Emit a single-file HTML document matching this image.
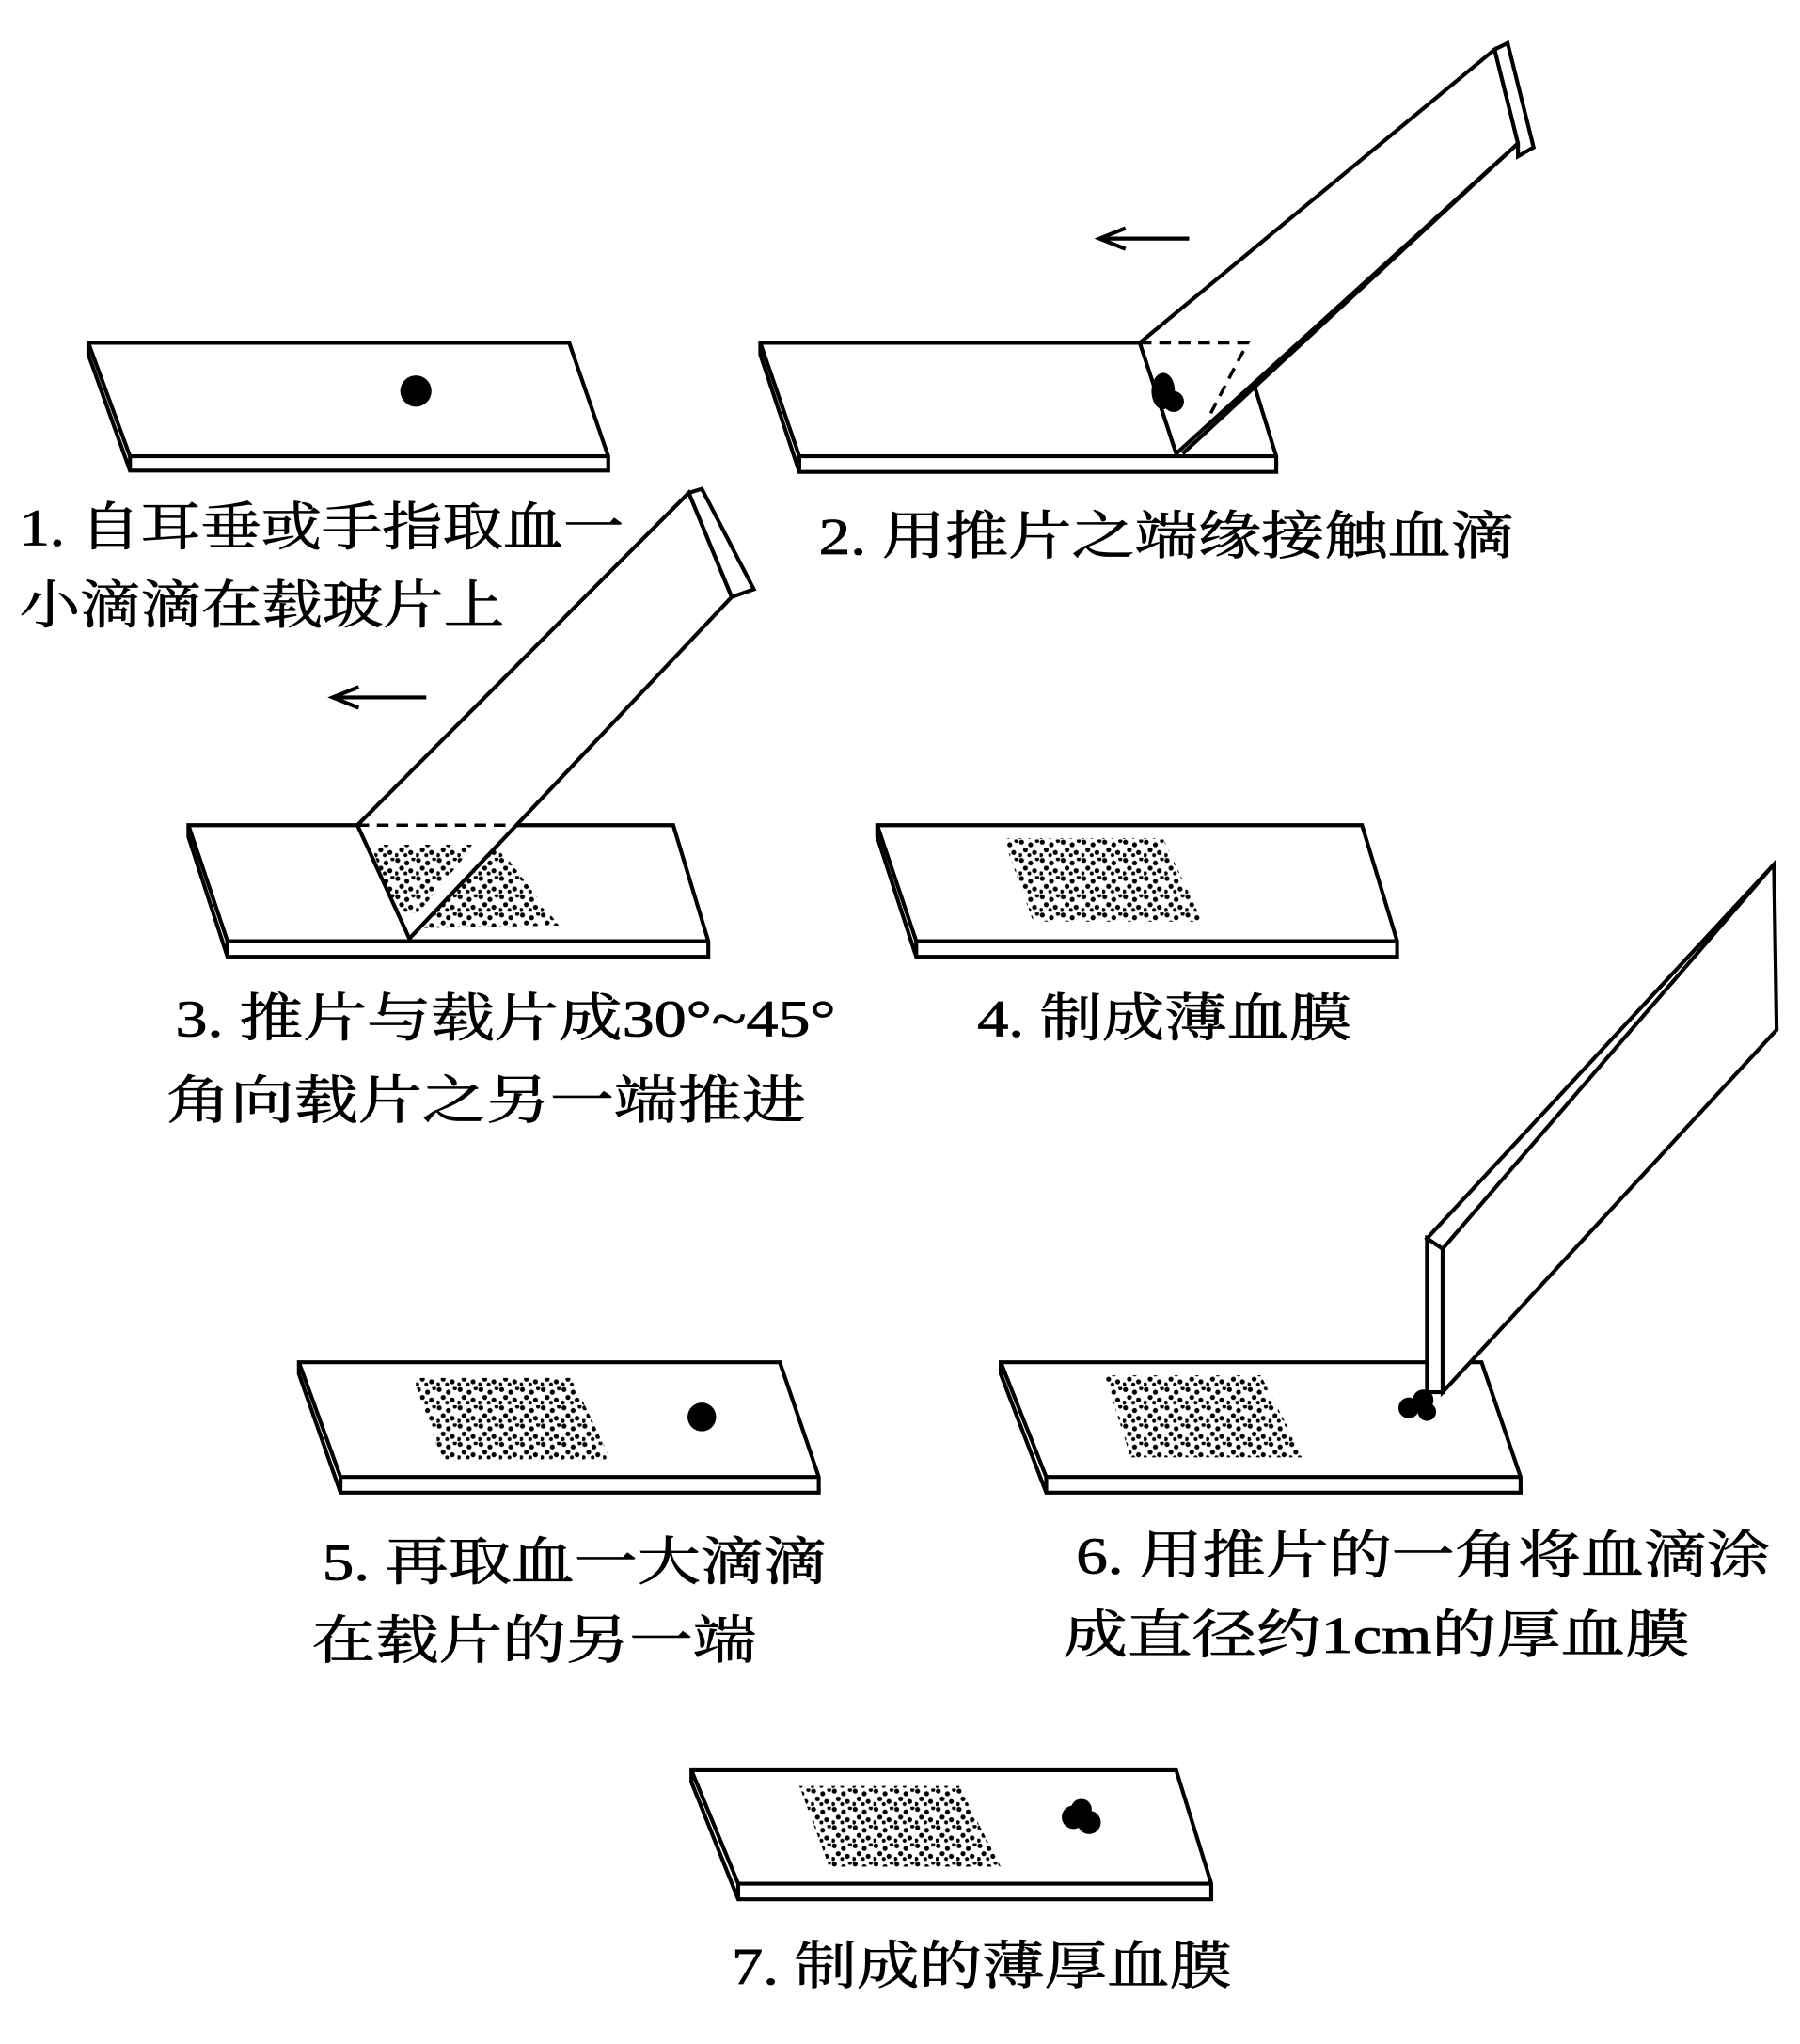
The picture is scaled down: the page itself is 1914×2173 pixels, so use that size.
<!DOCTYPE html>
<html><head><meta charset="utf-8"><style>html,body{margin:0;padding:0;background:#fff}svg{display:block}</style></head>
<body>
<svg width="1914" height="2173" viewBox="0 0 1385 1568" preserveAspectRatio="none" xmlns="http://www.w3.org/2000/svg">
<defs>
<pattern id="dots" width="16" height="14" patternUnits="userSpaceOnUse">
<circle cx="2" cy="2" r="1.9" fill="#000"/><circle cx="9" cy="4" r="1.9" fill="#000"/><circle cx="14" cy="1" r="1.6" fill="#000"/>
<circle cx="5" cy="8" r="1.9" fill="#000"/><circle cx="12" cy="10" r="1.9" fill="#000"/><circle cx="1" cy="12" r="1.6" fill="#000"/><circle cx="8" cy="12" r="1.5" fill="#000"/>
</pattern>
</defs>
<g fill="#fff" stroke="#000" stroke-width="3" stroke-linejoin="miter">
<polygon points="68,263 438,263 468,350 468,361 100,361 68,272"/>
<polyline points="68,263 100,350 468,350" fill="none"/><line x1="100" y1="350" x2="100" y2="361"/>
<polygon points="585,263 955,263 982,350 982,362 615,362 585,272"/>
<polyline points="585,263 615,350 982,350" fill="none"/><line x1="615" y1="350" x2="615" y2="362"/>
<polygon points="145,633 518,633 545,722 545,734 175,734 145,642"/>
<polyline points="145,633 175,722 545,722" fill="none"/><line x1="175" y1="722" x2="175" y2="734"/>
<polygon points="675,633 1048,633 1075,722 1075,734 705,734 675,642"/>
<polyline points="675,633 705,722 1075,722" fill="none"/><line x1="705" y1="722" x2="705" y2="734"/>
<polygon points="230,1045 600,1045 630,1133 630,1145 262,1145 230,1054"/>
<polyline points="230,1045 262,1133 630,1133" fill="none"/><line x1="262" y1="1133" x2="262" y2="1145"/>
<polygon points="770,1045 1140,1045 1170,1133 1170,1145 805,1145 770,1054"/>
<polyline points="770,1045 805,1133 1170,1133" fill="none"/><line x1="805" y1="1133" x2="805" y2="1145"/>
<polygon points="532,1358 905,1358 932,1445 932,1457 568,1457 532,1367"/>
<polyline points="532,1358 568,1445 932,1445" fill="none"/><line x1="568" y1="1445" x2="568" y2="1457"/>
</g>
<g fill="url(#dots)">
<polygon points="285,645 380,645 430,710 318,712"/>
<polygon points="772,643 895,643 925,707 795,707"/>
<polygon points="318,1057 440,1057 470,1120 340,1120"/>
<polygon points="850,1055 970,1055 1003,1118 870,1118"/>
<polygon points="615,1370 738,1370 770,1432 638,1432"/>
</g>
<g fill="#fff" stroke="#000" stroke-width="3">
<polygon points="877,263 1150,38 1168,110 905,348"/>
<polygon points="1150,38 1160,33 1180,113 1168,120 1168,110"/>
<line x1="1168" y1="110" x2="910" y2="348"/>
<polygon points="275,633 530,378 563,458 315,720"/>
<polygon points="530,378 540,375 580,452 563,458"/>
<polygon points="1098,950 1365,663 1367,790 1110,1068 1110,958"/>
<polygon points="1098,950 1110,958 1110,1068 1098,1068"/>
<line x1="1365" y1="663" x2="1110" y2="958"/>
</g>
<g fill="url(#dots)"><polygon points="285,648 365,648 322,700 305,700"/></g>
<g stroke="#000" stroke-width="2.5" stroke-dasharray="9,6" fill="none">
<polyline points="877,263 960,263 930,320"/>
<line x1="275" y1="633" x2="392" y2="633"/>
</g>
<circle cx="320" cy="300" r="12" fill="#000"/>
<circle cx="540" cy="1087" r="11" fill="#000"/>
<ellipse cx="895" cy="300" rx="9" ry="14" fill="#000"/><circle cx="903" cy="308" r="8" fill="#000"/>
<circle cx="1084" cy="1080" r="8" fill="#000"/><circle cx="1095" cy="1074" r="8" fill="#000"/><circle cx="1098" cy="1083" r="7" fill="#000"/>
<circle cx="826" cy="1394" r="9" fill="#000"/><circle cx="838" cy="1398" r="9" fill="#000"/><circle cx="832" cy="1388" r="8" fill="#000"/>
<g stroke="#000" stroke-width="3" fill="none">
<line x1="850" y1="183" x2="915" y2="183"/><polyline points="866,175 846,183 866,191"/>
<line x1="260" y1="535" x2="328" y2="535"/><polyline points="276,527 256,535 276,543"/>
</g>
<g font-family="'Liberation Serif','Noto Serif CJK SC','Noto Sans CJK SC',serif" font-size="40" fill="#000" stroke="#000" stroke-width="0.6">
<text x="15" y="418" textLength="465" lengthAdjust="spacingAndGlyphs">1. 自耳垂或手指取血一</text>
<text x="15" y="478" textLength="373" lengthAdjust="spacingAndGlyphs">小滴滴在载玻片上</text>
<text x="630" y="425" textLength="535" lengthAdjust="spacingAndGlyphs">2. 用推片之端缘接触血滴</text>
<text x="135" y="795" textLength="508" lengthAdjust="spacingAndGlyphs">3. 推片与载片成30°~45°</text>
<text x="128" y="858" textLength="492" lengthAdjust="spacingAndGlyphs">角向载片之另一端推进</text>
<text x="752" y="795" textLength="288" lengthAdjust="spacingAndGlyphs">4. 制成薄血膜</text>
<text x="248" y="1212" textLength="388" lengthAdjust="spacingAndGlyphs">5. 再取血一大滴滴</text>
<text x="240" y="1272" textLength="342" lengthAdjust="spacingAndGlyphs">在载片的另一端</text>
<text x="828" y="1207" textLength="534" lengthAdjust="spacingAndGlyphs">6. 用推片的一角将血滴涂</text>
<text x="818" y="1268" textLength="482" lengthAdjust="spacingAndGlyphs">成直径约1cm的厚血膜</text>
<text x="563" y="1522" textLength="385" lengthAdjust="spacingAndGlyphs">7. 制成的薄厚血膜</text>
</g>
</svg>
</body></html>
